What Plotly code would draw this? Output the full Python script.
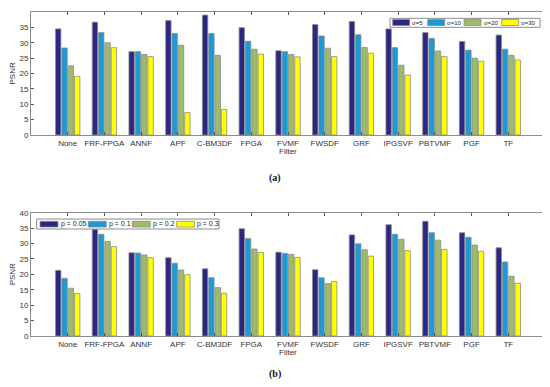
import plotly.graph_objects as go

categories = ["None", "FRF-FPGA", "ANNF", "APF", "C-BM3DF", "FPGA", "FVMF",
              "FWSDF", "GRF", "IPGSVF", "PBTVMF", "PGF", "TF"]

# (a) Gaussian noise levels
sigma_names = ["σ=5", "σ=10", "σ=20", "σ=30"]
sigma5 = [34.5, 36.7, 27.1, 37.2, 39.0, 34.9, 27.4, 35.9, 36.9, 34.5, 33.3, 30.4, 32.5]
sigma10 = [28.3, 33.3, 27.1, 33.0, 33.0, 30.5, 27.1, 32.2, 32.6, 28.4, 31.4, 27.6, 27.9]
sigma20 = [22.5, 30.0, 26.2, 29.2, 25.9, 27.9, 26.2, 28.2, 28.5, 22.7, 27.3, 25.0, 25.9]
sigma30 = [19.1, 28.4, 25.5, 7.3, 8.3, 26.3, 25.4, 25.5, 26.6, 19.5, 25.5, 24.0, 24.4]

# (b) impulse noise densities
p_names = ["p = 0.05", "p = 0.1", "p = 0.2", "p = 0.3"]
p005 = [21.3, 34.6, 27.0, 25.4, 21.8, 34.8, 27.2, 21.5, 32.8, 36.1, 37.2, 33.5, 28.6]
p01 = [18.7, 33.0, 26.9, 23.6, 18.9, 31.6, 26.8, 18.9, 29.9, 33.0, 33.5, 32.0, 24.0]
p02 = [15.5, 30.7, 26.3, 21.4, 15.7, 28.2, 26.5, 17.0, 28.0, 31.4, 31.1, 29.5, 19.4]
p03 = [13.8, 29.0, 25.4, 19.9, 13.9, 27.1, 25.5, 17.7, 25.9, 27.7, 28.1, 27.5, 17.1]

colors = ["#2c2782", "#1a9bd6", "#9dbb68", "#ffff00"]
yticks = list(range(0, 45, 5))

# page body has an 8px margin: work in screen pixels and convert
OFF = 8
W, H = 550 - OFF, 387 - OFF


def px(x):
    return (x - OFF) / W


def py(y):
    return 1 - (y - OFF) / H


fig = go.Figure()
for name, vals, c in zip(sigma_names, [sigma5, sigma10, sigma20, sigma30], colors):
    fig.add_trace(go.Bar(x=categories, y=vals, name=name, marker_color=c,
                         marker_line=dict(color="#8a8a8a", width=0.8),
                         xaxis="x", yaxis="y", showlegend=False))
for name, vals, c in zip(p_names, [p005, p01, p02, p03], colors):
    fig.add_trace(go.Bar(x=categories, y=vals, name=name, marker_color=c,
                         marker_line=dict(color="#8a8a8a", width=0.8),
                         xaxis="x2", yaxis="y2", showlegend=False))

font = dict(family="Liberation Sans, Arial, sans-serif", size=8, color="#333333")
axis_common = dict(showline=True, linecolor="#8c8c8c", linewidth=1, mirror="ticks",
                   ticks="inside", ticklen=3, tickcolor="#555555", showgrid=False,
                   zeroline=False, tickfont=font, automargin=False)

xdom = [px(31), px(545)]
shapes = []
annotations = []


def note(text, x, y, f, **kw):
    d = dict(text=text, x=x, y=y, xref="paper", yref="paper", showarrow=False,
             xanchor="center", yanchor="middle", font=f)
    d.update(kw)
    annotations.append(d)


def add_legend(box, sw_x, sw_w, sw_y, names, fsize):
    x0, y0, x1, y1 = box
    shapes.append(dict(type="rect", xref="paper", yref="paper",
                       x0=px(x0), x1=px(x1), y0=py(y1), y1=py(y0),
                       fillcolor="white", line=dict(color="#8c8c8c", width=1)))
    for sx, name, c in zip(sw_x, names, colors):
        shapes.append(dict(type="rect", xref="paper", yref="paper",
                           x0=px(sx), x1=px(sx + sw_w), y0=py(sw_y[1]), y1=py(sw_y[0]),
                           fillcolor=c, line=dict(color="#8a8a8a", width=0.8)))
        note(name, px(sx + sw_w + 0.5), py((sw_y[0] + sw_y[1]) / 2),
             dict(family="Liberation Sans, Arial, sans-serif", size=fsize, color="#222222"),
             xanchor="left")


add_legend((390, 18.3, 540, 27.3), [392.7, 427.7, 464, 501.7], 17, (19.5, 25.5), sigma_names, 6)
add_legend((36.7, 219, 219, 229), [40, 88.3, 132.3, 176.7], 18, (221.3, 227), p_names, 7)

for yc in ((12 + 135) / 2, (212.7 + 336) / 2):
    note("PSNR", px(12), py(yc), font, textangle=-90)
for yc in (151, 352):
    note("Filter", 0.5 * (xdom[0] + xdom[1]), py(yc), font)
for t, yc in (("<b>(a)</b>", 178), ("<b>(b)</b>", 374)):
    note(t, px(275), py(yc), dict(family="Liberation Serif, serif", size=10, color="#111"))

fig.update_layout(
    template="none",
    width=W, height=H,
    margin=dict(l=0, r=0, t=0, b=0, pad=0),
    paper_bgcolor="white", plot_bgcolor="white",
    barmode="group", bargap=0.31, bargroupgap=0.15,
    font=font,
    showlegend=False,
    xaxis=dict(domain=xdom, anchor="y", range=[-1, 13], **axis_common),
    yaxis=dict(domain=[py(135), py(12)], anchor="x", range=[0, 40],
               tickvals=yticks, **axis_common),
    xaxis2=dict(domain=xdom, anchor="y2", range=[-1, 13], **axis_common),
    yaxis2=dict(domain=[py(336), py(212.7)], anchor="x2", range=[0, 40],
                tickvals=yticks, **axis_common),
    shapes=shapes,
    annotations=annotations,
)

fig.write_html("out.html")
